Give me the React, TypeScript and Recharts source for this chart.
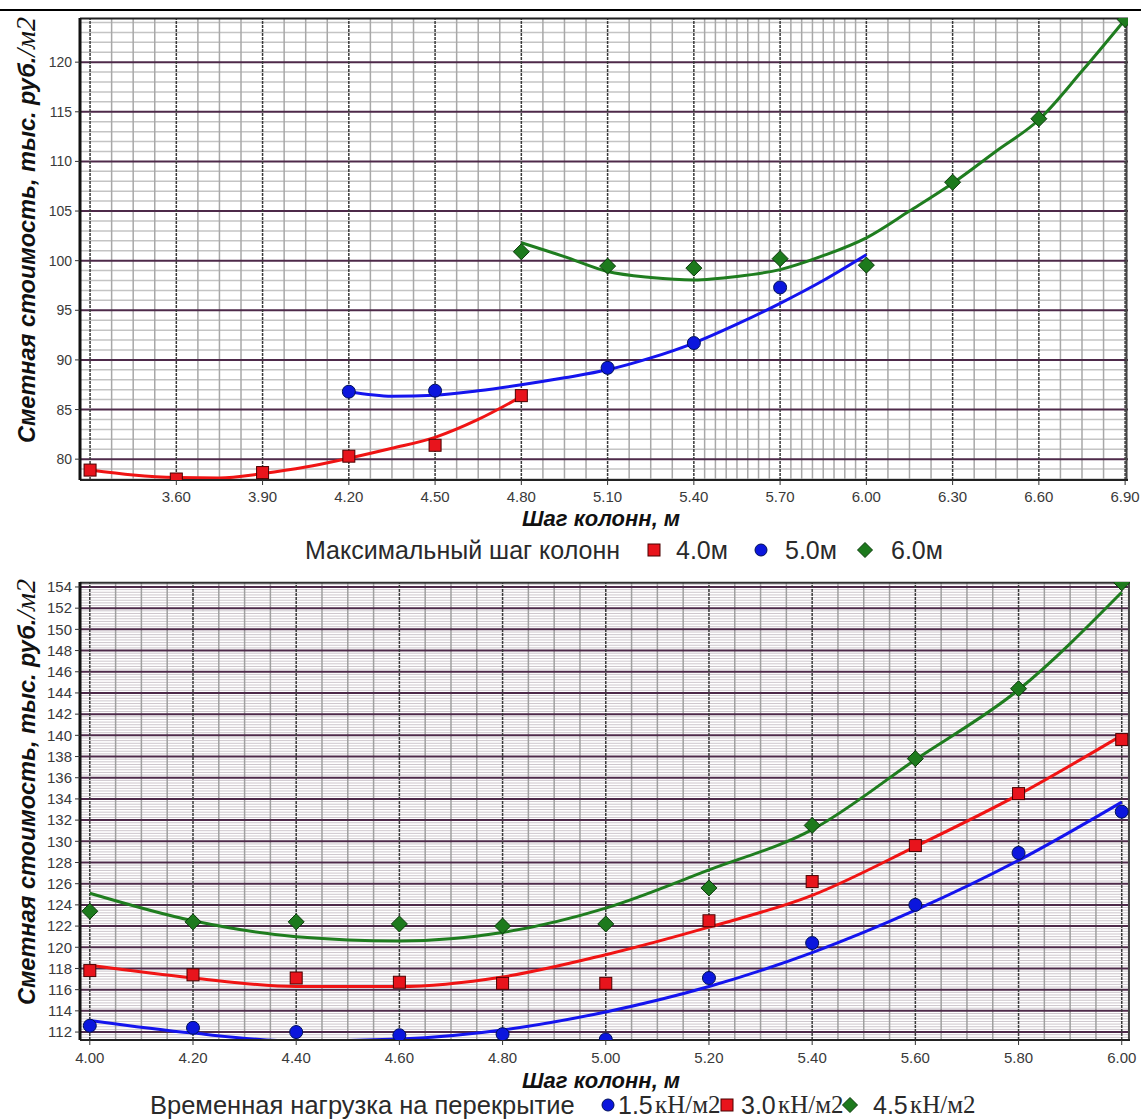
import React from 'react';
import { ComposedChart, Line, Scatter, XAxis, YAxis, ReferenceLine } from 'recharts';

// ---------------- Chart 1: максимальный шаг колонн ----------------
const stepTicksTop = [3.6, 3.9, 4.2, 4.5, 4.8, 5.1, 5.4, 5.7, 6.0, 6.3, 6.6, 6.9];
const costTicksTop = [80, 85, 90, 95, 100, 105, 110, 115, 120];

const max4X = [3.3, 3.6, 3.9, 4.2, 4.5, 4.8];
const max4Y = [78.9, 78.0, 78.65, 80.3, 81.4, 86.4];
const max5X = [4.2, 4.5, 5.1, 5.4, 5.7];
const max5Y = [86.8, 86.9, 89.2, 91.7, 97.3];
const max6X = [4.8, 5.1, 5.4, 5.7, 6.0, 6.3, 6.6, 6.9];
const max6Y = [100.9, 99.45, 99.25, 100.2, 99.55, 107.9, 114.3, 124.3];

const fit4X = [3.3, 3.45, 3.6, 3.75, 3.9, 4.05, 4.2, 4.35, 4.5, 4.65, 4.8];
const fit4Y = [78.9, 78.4, 78.15, 78.1, 78.55, 79.2, 80.1, 81.1, 82.2, 84.0, 86.3];
const fit5X = [4.2, 4.35, 4.5, 4.65, 4.8, 4.95, 5.1, 5.25, 5.4, 5.55, 5.7, 5.85, 6.0];
const fit5Y = [86.8, 86.35, 86.45, 86.9, 87.5, 88.2, 89.0, 90.2, 91.7, 93.6, 95.7, 98.0, 100.6];
const fit6X = [4.8, 4.95, 5.1, 5.25, 5.4, 5.55, 5.7, 5.85, 6.0, 6.15, 6.3, 6.45, 6.6, 6.75, 6.9];
const fit6Y = [101.8, 100.4, 98.9, 98.3, 98.05, 98.4, 99.1, 100.5, 102.3, 105.0, 107.8, 111.0, 114.2, 119.1, 124.3];

// ---------------- Chart 2: временная нагрузка ----------------
const stepTicksBottom = [4.0, 4.2, 4.4, 4.6, 4.8, 5.0, 5.2, 5.4, 5.6, 5.8, 6.0];
const costTicksBottom = [112, 114, 116, 118, 120, 122, 124, 126, 128, 130, 132, 134, 136, 138, 140, 142, 144, 146, 148, 150, 152, 154];

const loadX = [4.0, 4.2, 4.4, 4.6, 4.8, 5.0, 5.2, 5.4, 5.6, 5.8, 6.0];
const load15Y = [112.6, 112.4, 112.0, 111.7, 111.8, 111.3, 117.1, 120.4, 124.0, 128.9, 132.8];
const load30Y = [117.8, 117.4, 117.1, 116.7, 116.6, 116.6, 122.5, 126.2, 129.6, 134.5, 139.6];
const load45Y = [123.4, 122.4, 122.4, 122.2, 122.0, 122.2, 125.6, 131.5, 137.8, 144.4, 154.4];

const fitLoad15Y = [113.1, 111.9, 111.15, 111.35, 112.2, 113.9, 116.3, 119.5, 123.5, 128.2, 133.7];
const fitLoad30Y = [118.3, 117.1, 116.3, 116.3, 117.2, 119.3, 121.9, 124.9, 129.5, 134.4, 140.0];
const fitLoad45Y = [125.1, 122.5, 121.0, 120.6, 121.4, 123.7, 127.3, 131.1, 137.7, 144.3, 153.5];

const legendTopTitle = 'Максимальный шаг колонн';
const legendTopItems = ['4.0м', '5.0м', '6.0м'];
const legendBottomTitle = 'Временная нагрузка на перекрытие';
const legendBottomItems = ['1.5', '3.0', '4.5'];
const legendBottomUnit = 'кН/м2';
const xTitle = 'Шаг колонн, м';
const yTitle = 'Сметная стоимость, тыс. руб.';
const yTitleUnit = '/м2';

// ---------------- helpers ----------------
const pts = (xs: number[], ys: number[]) => xs.map((x, i) => ({ x, y: ys[i] }));
const range = (a: number, b: number, s: number) => {
  const out: number[] = [];
  for (let k = 0; a + k * s <= b + 1e-9; k++) out.push(+(a + k * s).toFixed(4));
  return out;
};
const notIn = (arr: number[], ex: number[]) => arr.filter((v) => !ex.some((e) => Math.abs(e - v) < 1e-6));

const SANS = '"Liberation Sans", Arial, sans-serif';
const SERIF = '"Liberation Serif", "Times New Roman", serif';

const RED = '#f01414';
const BLUE = '#1414ee';
const GREEN = '#1f7d1f';

const Square = (p: any) => (
  <rect x={p.cx - 6} y={p.cy - 6} width={12} height={12} fill="#e8141c" stroke="#4a0000" strokeWidth={1} />
);
const Circle = (p: any) => <circle cx={p.cx} cy={p.cy} r={6.5} fill="#0b16dd" stroke="#00105a" strokeWidth={1} />;
const Diamond = (p: any) => (
  <polygon
    points={`${p.cx},${p.cy - 8} ${p.cx + 8},${p.cy} ${p.cx},${p.cy + 8} ${p.cx - 8},${p.cy}`}
    fill="#1d7a1d"
    stroke="#0b3a0b"
    strokeWidth={1}
  />
);

const vLines = (vals: number[], stroke: string, w: number, dash?: string) =>
  vals.map((v) => (
    <ReferenceLine key={'v' + v + stroke} x={v} stroke={stroke} strokeWidth={w} strokeDasharray={dash} />
  ));
const hLines = (vals: number[], stroke: string, w: number) =>
  vals.map((v) => <ReferenceLine key={'h' + v + stroke} y={v} stroke={stroke} strokeWidth={w} />);

// ---------------- top chart grid ----------------
const topDomX: [number, number] = [3.265, 6.91];
const topDomY: [number, number] = [77.9, 124.45];
const topMajorV = [3.3, ...stepTicksTop];
const topMinorV = notIn([...range(3.3, 6.9, 0.075), ...range(5.4375, 5.97, 0.075)], topMajorV);
const topMinorH = notIn(range(78, 124, 1), costTicksTop);

// ---------------- bottom chart grid ----------------
const botDomX: [number, number] = [3.981, 6.016];
const botDomY: [number, number] = [111.25, 154.47];
const botMinorV = notIn(range(4.0, 6.0, 0.05), stepTicksBottom);
const botMinorH = notIn(range(111.25, 154.25, 0.25), costTicksBottom);

const LegendMark = ({ kind }: { kind: 'sq' | 'ci' | 'di' }) => (
  <svg width={16} height={16} style={{ display: 'block' }}>
    {kind === 'sq' && <rect x={2} y={2} width={12} height={12} fill="#e8141c" stroke="#4a0000" />}
    {kind === 'ci' && <circle cx={8} cy={8} r={6} fill="#0b16dd" stroke="#00105a" />}
    {kind === 'di' && <polygon points="8,0.5 15.5,8 8,15.5 0.5,8" fill="#1d7a1d" stroke="#0b3a0b" />}
  </svg>
);

const abs = (left: number, top: number, extra: React.CSSProperties = {}): React.CSSProperties => ({
  position: 'absolute',
  left,
  top,
  whiteSpace: 'nowrap',
  ...extra,
});

export default function App() {
  const legendFont: React.CSSProperties = { fontFamily: SANS, fontSize: 25, color: '#2a2a2a', lineHeight: '24px' };
  const unitFont: React.CSSProperties = { fontFamily: SERIF, fontSize: 25, color: '#2a2a2a', lineHeight: '24px' };
  const titleFont: React.CSSProperties = {
    fontFamily: SANS,
    fontSize: 22,
    fontWeight: 'bold',
    fontStyle: 'italic',
    color: '#111',
    lineHeight: '22px',
  };
  const yTitleEl = (y: number) => (
    <text transform={`translate(35,${y}) rotate(-90)`} fontFamily={SANS} fontSize={23.5} fontWeight="bold" fontStyle="italic" fill="#111">
      {yTitle}
      <tspan fontFamily={SERIF} fontWeight="normal" fontSize={28}>{yTitleUnit}</tspan>
    </text>
  );
  return (
    <div style={{ position: 'absolute', left: 0, top: 0, width: 1141, height: 1120, background: '#fff', overflow: 'hidden' }}>
      <div style={{ position: 'absolute', left: 0, top: 9, width: 1141, height: 2, background: '#000' }} />

      {/* top chart */}
      <div style={{ position: 'absolute', left: 0, top: 0 }}>
        <ComposedChart width={1141} height={510} margin={{ top: 18, right: 13, left: 0, bottom: 0 }}>
          <XAxis
            type="number"
            dataKey="x"
            domain={topDomX}
            allowDataOverflow
            ticks={stepTicksTop}
            interval={0}
            tickFormatter={(v: number) => v.toFixed(2)}
            height={30}
            tickSize={5}
            tickMargin={6}
            tick={{ fontSize: 15, fill: '#3a3a3a', fontFamily: SANS }}
            axisLine={{ stroke: '#222', strokeWidth: 2 }}
            tickLine={{ stroke: '#333' }}
          />
          <YAxis
            type="number"
            dataKey="y"
            domain={topDomY}
            allowDataOverflow
            ticks={costTicksTop}
            interval={0}
            width={80}
            tickSize={5}
            tickMargin={3}
            tick={{ fontSize: 14, fill: '#3a3a3a', fontFamily: SANS }}
            axisLine={{ stroke: '#111', strokeWidth: 3 }}
            tickLine={{ stroke: '#333' }}
          />
          {hLines(topMinorH, '#c4c4c4', 1.5)}
          {vLines(topMinorV, '#a8a8a8', 1.5)}
          {hLines(costTicksTop, '#4e2a4a', 2)}
          {vLines(topMajorV, '#3a3a3a', 1.5, '3 1')}
          <ReferenceLine y={124.4} stroke="#222" strokeWidth={2} />
          <ReferenceLine x={6.905} stroke="#444" strokeWidth={2} />
          <Line data={pts(fit4X, fit4Y)} dataKey="y" type="monotone" stroke={RED} strokeWidth={3} dot={false} isAnimationActive={false} />
          <Line data={pts(fit5X, fit5Y)} dataKey="y" type="monotone" stroke={BLUE} strokeWidth={3} dot={false} isAnimationActive={false} />
          <Line data={pts(fit6X, fit6Y)} dataKey="y" type="monotone" stroke={GREEN} strokeWidth={3} dot={false} isAnimationActive={false} />
          <Scatter data={pts(max4X, max4Y)} dataKey="y" shape={Square} isAnimationActive={false} />
          <Scatter data={pts(max5X, max5Y)} dataKey="y" shape={Circle} isAnimationActive={false} />
          <Scatter data={pts(max6X, max6Y)} dataKey="y" shape={Diamond} isAnimationActive={false} />
        </ComposedChart>
      </div>

      {/* bottom chart */}
      <div style={{ position: 'absolute', left: 0, top: 560 }}>
        <ComposedChart width={1141} height={510} margin={{ top: 22, right: 11, left: 0, bottom: 0 }}>
          <XAxis
            type="number"
            dataKey="x"
            domain={botDomX}
            allowDataOverflow
            ticks={stepTicksBottom}
            interval={0}
            tickFormatter={(v: number) => v.toFixed(2)}
            height={30}
            tickSize={5}
            tickMargin={7}
            tick={{ fontSize: 15, fill: '#3a3a3a', fontFamily: SANS }}
            axisLine={{ stroke: '#222', strokeWidth: 2 }}
            tickLine={{ stroke: '#333' }}
          />
          <YAxis
            type="number"
            dataKey="y"
            domain={botDomY}
            allowDataOverflow
            ticks={costTicksBottom}
            interval={0}
            width={80}
            tickSize={5}
            tickMargin={3}
            tick={{ fontSize: 15, fill: '#3a3a3a', fontFamily: SANS }}
            axisLine={{ stroke: '#111', strokeWidth: 3 }}
            tickLine={{ stroke: '#333' }}
          />
          {hLines(botMinorH, '#cdc6cc', 1)}
          {vLines(botMinorV, '#a0a0a0', 1.5)}
          {hLines(costTicksBottom, '#4e2a4a', 2)}
          {vLines(stepTicksBottom, '#3a3a3a', 1.5, '3 1')}
          <ReferenceLine y={154.4} stroke="#333" strokeWidth={2} />
          <ReferenceLine x={6.014} stroke="#444" strokeWidth={2} />
          <Line data={pts(loadX, fitLoad15Y)} dataKey="y" type="monotone" stroke={BLUE} strokeWidth={3} dot={false} isAnimationActive={false} />
          <Line data={pts(loadX, fitLoad30Y)} dataKey="y" type="monotone" stroke={RED} strokeWidth={3} dot={false} isAnimationActive={false} />
          <Line data={pts(loadX, fitLoad45Y)} dataKey="y" type="monotone" stroke={GREEN} strokeWidth={3} dot={false} isAnimationActive={false} />
          <Scatter data={pts(loadX, load15Y)} dataKey="y" shape={Circle} isAnimationActive={false} />
          <Scatter data={pts(loadX, load30Y)} dataKey="y" shape={Square} isAnimationActive={false} />
          <Scatter data={pts(loadX, load45Y)} dataKey="y" shape={Diamond} isAnimationActive={false} />
        </ComposedChart>
      </div>

      {/* y axis titles */}
      <svg width={80} height={1120} style={{ position: 'absolute', left: 0, top: 0 }}>
        {yTitleEl(443)}
        {yTitleEl(1005)}
      </svg>

      {/* x axis titles */}
      <div style={abs(522, 508, titleFont)}>{xTitle}</div>
      <div style={abs(522, 1070, titleFont)}>{xTitle}</div>

      {/* top legend */}
      <div style={abs(305, 538, legendFont)}>{legendTopTitle}</div>
      <div style={abs(646, 542)}><LegendMark kind="sq" /></div>
      <div style={abs(676, 538, legendFont)}>{legendTopItems[0]}</div>
      <div style={abs(753, 542)}><LegendMark kind="ci" /></div>
      <div style={abs(785, 538, legendFont)}>{legendTopItems[1]}</div>
      <div style={abs(857, 542)}><LegendMark kind="di" /></div>
      <div style={abs(891, 538, legendFont)}>{legendTopItems[2]}</div>

      {/* bottom legend */}
      <div style={abs(150, 1093, { ...legendFont, fontSize: 25.5 })}>{legendBottomTitle}</div>
      <div style={abs(600, 1097)}><LegendMark kind="ci" /></div>
      <div style={abs(618, 1093, legendFont)}>{legendBottomItems[0]}</div>
      <div style={abs(655, 1093, unitFont)}>{legendBottomUnit}</div>
      <div style={abs(719, 1097)}><LegendMark kind="sq" /></div>
      <div style={abs(741, 1093, legendFont)}>{legendBottomItems[1]}</div>
      <div style={abs(778, 1093, unitFont)}>{legendBottomUnit}</div>
      <div style={abs(842, 1097)}><LegendMark kind="di" /></div>
      <div style={abs(873, 1093, legendFont)}>{legendBottomItems[2]}</div>
      <div style={abs(910, 1093, unitFont)}>{legendBottomUnit}</div>
    </div>
  );
}
